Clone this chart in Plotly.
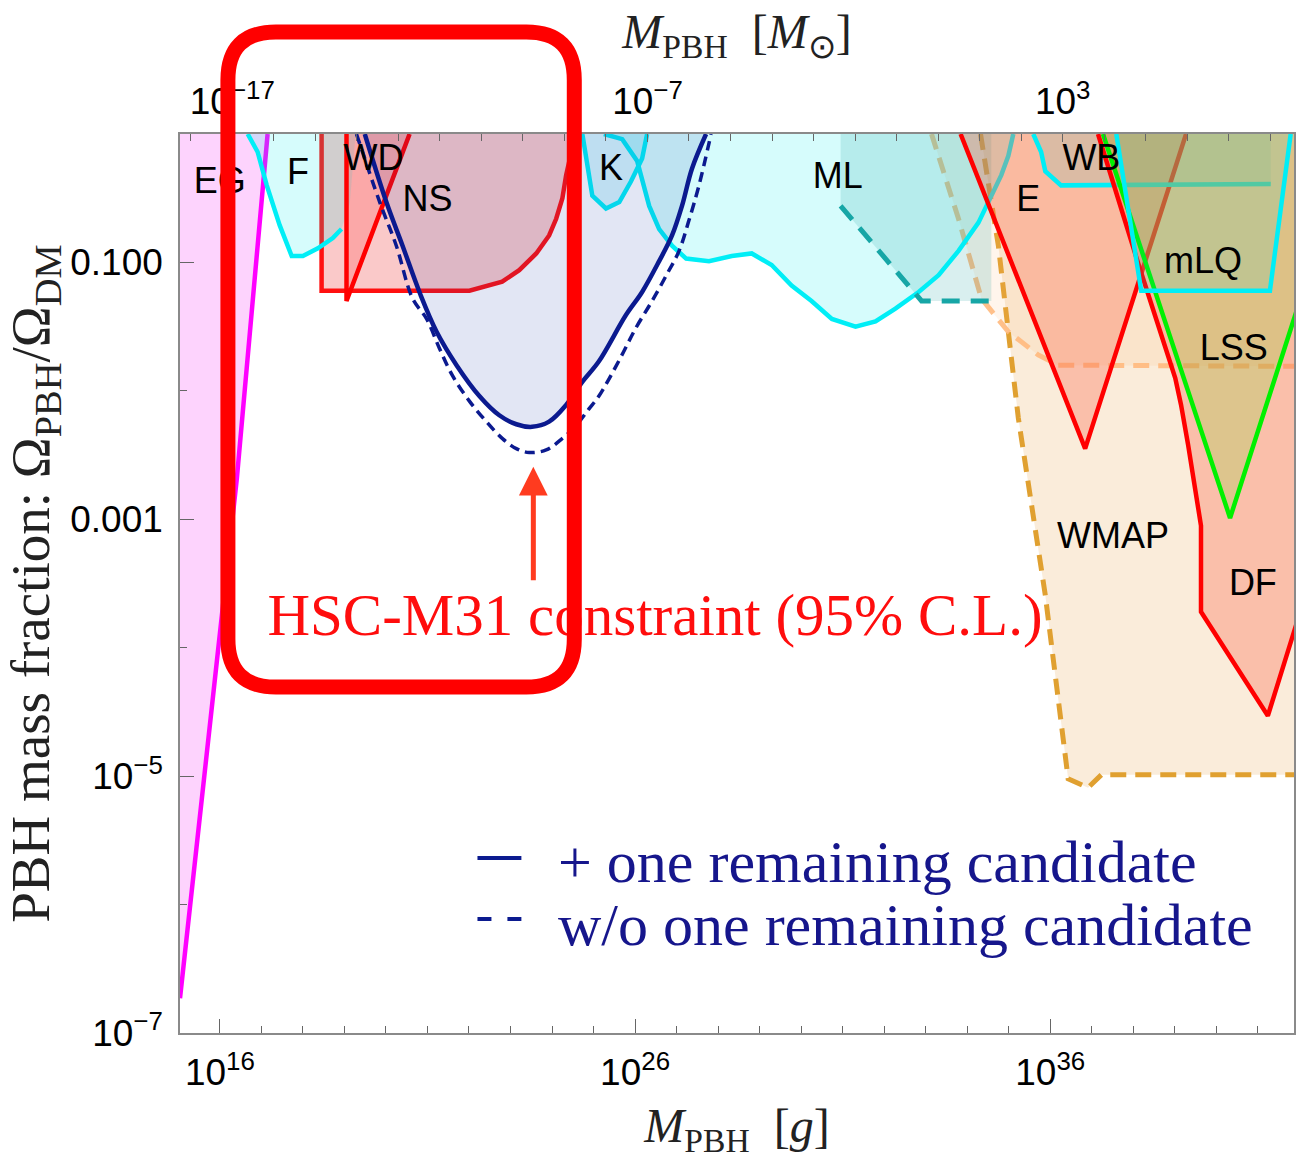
import numpy as np
import plotly.graph_objects as go

# ---------------- data: log10(M / g), log10(f) ----------------
LOG_MSUN = np.log10(1.989e33)
X_RANGE = [15.04, 41.87]
Y_RANGE = [-7.0, 0.0]

EG_X = [15.04, 16.41, 17.15]
EG_Y = [-6.73, -2.68, 0.0]

F_X = [16.67, 16.91, 17.13, 17.44, 17.73, 18.00, 18.36, 18.72, 18.93]
F_Y = [0.0, -0.14, -0.40, -0.71, -0.95, -0.95, -0.89, -0.81, -0.74]
F_TAIL_X = [19.13, 19.27]
F_TAIL_Y = [-0.54, 0.0]

NS_X = [18.45, 18.45, 22.01, 22.80, 23.21, 23.62, 23.93, 24.10, 24.25, 24.34, 24.46, 24.53]
NS_Y = [0.0, -1.22, -1.22, -1.15, -1.06, -0.93, -0.79, -0.66, -0.50, -0.32, -0.15, 0.0]

WD_X = [19.05, 19.05, 20.57]
WD_Y = [0.0, -1.30, 0.0]

K_X = [24.73, 24.83, 24.97, 25.30, 25.62, 25.90, 26.17, 26.29]
K_Y = [0.0, -0.21, -0.48, -0.58, -0.53, -0.37, -0.19, 0.0]

ML_X = [25.25, 25.69, 26.05, 26.22, 26.34, 26.58, 26.89, 27.23, 27.78, 28.33, 28.81,
        29.29, 29.77, 30.25, 30.74, 31.31, 31.79, 32.27, 32.83, 33.31, 33.79, 34.27,
        34.58, 34.82, 34.99, 35.11]
ML_Y = [0.0, -0.04, -0.21, -0.40, -0.56, -0.74, -0.87, -0.97, -0.99, -0.95, -0.93,
        -1.02, -1.18, -1.30, -1.44, -1.50, -1.46, -1.36, -1.23, -1.10, -0.91, -0.69,
        -0.48, -0.32, -0.17, 0.0]

MLD_X = [30.95, 30.95, 32.90, 34.58, 34.58]
MLD_Y = [0.0, -0.56, -1.30, -1.30, 0.0]

WMAP_X = [34.32, 34.75, 35.23, 35.88, 36.43, 36.91, 37.23, 42.5]
WMAP_Y = [0.0, -0.87, -2.21, -3.59, -5.02, -5.09, -4.99, -4.99]

PCH_X = [33.14, 33.79, 34.34, 34.99, 35.71, 36.19, 42.5]
PCH_Y = [0.0, -0.66, -1.28, -1.54, -1.72, -1.80, -1.81]

E_X = [33.84, 36.84, 39.27]
E_Y = [0.0, -2.45, 0.0]

WB_X = [35.59, 35.78, 35.88, 36.26, 41.31]
WB_Y = [0.0, -0.14, -0.29, -0.40, -0.39]

MLQ_X = [37.59, 38.19, 41.29, 41.79]
MLQ_Y = [0.0, -1.22, -1.22, 0.0]

LSS_X = [37.27, 40.33, 43.3]
LSS_Y = [0.0, -2.99, 0.0]

DF_X = [37.15, 38.12, 39.01, 39.15, 39.32, 39.63, 39.63, 41.24, 45.6]
DF_Y = [0.0, -1.01, -1.90, -2.11, -2.42, -3.05, -3.72, -4.53, 0.0]

HSC_X = [19.49, 20.01, 20.40, 20.83, 21.22, 21.70, 22.25, 22.73, 23.14, 23.52, 23.93,
         24.34, 24.73, 25.13, 25.78, 26.17, 26.58, 26.89, 27.13, 27.37, 27.71]
HSC_Y = [0.0, -0.53, -0.87, -1.25, -1.54, -1.80, -2.04, -2.19, -2.26, -2.28, -2.24,
         -2.11, -1.93, -1.77, -1.41, -1.23, -0.99, -0.79, -0.56, -0.27, 0.0]

HSC0_X = [19.29, 19.85, 20.25, 20.64, 20.98, 21.29, 21.60, 22.01, 22.42, 22.80, 23.14,
          23.45, 23.86, 24.25, 24.58, 24.89, 25.13, 25.62, 26.02, 26.41, 26.77, 27.06,
          27.30, 27.54, 27.83]
HSC0_Y = [0.0, -0.53, -0.87, -1.28, -1.44, -1.67, -1.88, -2.08, -2.24, -2.37, -2.45,
          -2.48, -2.46, -2.37, -2.27, -2.14, -2.04, -1.76, -1.51, -1.30, -1.09, -0.91,
          -0.67, -0.40, 0.0]

LABELS = ["EG", "F", "WD", "NS", "K", "ML", "E", "WB", "mLQ", "LSS", "WMAP", "DF"]
LABEL_X = [16.00, 17.88, 19.70, 21.00, 25.42, 30.88, 35.47, 36.99, 39.68, 40.42, 37.51, 40.88]
LABEL_Y = [-0.39, -0.32, -0.21, -0.53, -0.29, -0.35, -0.53, -0.21, -1.01, -1.69, -3.15, -3.52]

HSC_TEXT = "HSC-M31 constraint (95% C.L.)"
HSC_TEXT_X, HSC_TEXT_Y = 26.48, -3.79
ARROW_X, ARROW_Y = 23.55, -2.59

X_TICKS = [16, 26, 36]
X2_TICKS = [-17, -7, 3]
Y_TICKS = [-1, -3, -5, -7]
Y_TICKTEXT = ["0.100", "0.001", "10<sup>\u22125</sup>", "10<sup>\u22127</sup>"]

# ---------------- helpers ----------------
def p10(v):
    return np.power(10.0, np.asarray(v, dtype=float))

def fill_trace(xs, ys, color, shape="linear"):
    return go.Scatter(x=p10(xs), y=p10(ys), mode="lines", fill="toself",
                      fillcolor=color, line=dict(width=0, color="rgba(0,0,0,0)", shape=shape),
                      hoverinfo="skip", showlegend=False)

def line_trace(xs, ys, color, width=4.5, dash="solid", shape="linear"):
    return go.Scatter(x=p10(xs), y=p10(ys), mode="lines",
                      line=dict(color=color, width=width, dash=dash, shape=shape),
                      hoverinfo="skip", showlegend=False)

CYAN = "#00eef6"
RED = "#ff0000"
NAVY = "#0b1a8f"

fig = go.Figure()

# EG
fig.add_trace(fill_trace([14.5] + EG_X + [14.5], [EG_Y[0]] + EG_Y + [0.0], "rgba(250,130,250,0.35)"))
fig.add_trace(line_trace(EG_X, EG_Y, "#ff00ff", 4.5))
# WMAP
fig.add_trace(fill_trace(WMAP_X + [WMAP_X[-1]], WMAP_Y + [0.0], "rgba(230,160,70,0.2)"))
fig.add_trace(line_trace(WMAP_X, WMAP_Y, "#e0a030", 5, "16px,9px"))
# peach dashed region
fig.add_trace(fill_trace(PCH_X + [PCH_X[-1]], PCH_Y + [0.0], "rgba(255,180,110,0.13)"))
fig.add_trace(line_trace(PCH_X, PCH_Y, "rgba(255,185,125,0.9)", 5, "16px,9px"))
# NS
fig.add_trace(fill_trace(NS_X, NS_Y, "rgba(235,40,40,0.25)"))
fig.add_trace(line_trace(NS_X, NS_Y, "#ff1010", 4.5))
# F
fig.add_trace(fill_trace(F_X + F_TAIL_X, F_Y + F_TAIL_Y, "rgba(0,238,238,0.16)"))
fig.add_trace(line_trace(F_X, F_Y, CYAN, 4.5))
# ML
fig.add_trace(fill_trace(ML_X, ML_Y, "rgba(0,238,238,0.16)"))
fig.add_trace(fill_trace(MLD_X, MLD_Y, "rgba(0,150,150,0.15)"))
fig.add_trace(line_trace(ML_X, ML_Y, CYAN, 4.5))
fig.add_trace(line_trace(MLD_X[1:4], MLD_Y[1:4], "#17a6a6", 5, "18px,11px"))
# K
fig.add_trace(fill_trace(K_X, K_Y, "rgba(0,200,238,0.16)"))
fig.add_trace(line_trace(K_X, K_Y, CYAN, 4.5))
# WD
fig.add_trace(fill_trace(WD_X, WD_Y, "rgba(255,40,40,0.2)"))
fig.add_trace(line_trace(WD_X, WD_Y, RED, 4.5))
# E
fig.add_trace(fill_trace(E_X, E_Y, "rgba(250,110,80,0.35)"))
fig.add_trace(line_trace(E_X, E_Y, RED, 4.5))
# WB
fig.add_trace(fill_trace(WB_X + [WB_X[-1]], WB_Y + [0.0], "rgba(0,200,200,0.12)"))
fig.add_trace(line_trace(WB_X, WB_Y, CYAN, 4.5))
# DF
fig.add_trace(fill_trace(DF_X, DF_Y, "rgba(250,110,80,0.35)"))
fig.add_trace(line_trace(DF_X, DF_Y, RED, 4.5))
# LSS
fig.add_trace(fill_trace(LSS_X, LSS_Y, "rgba(120,220,40,0.22)"))
fig.add_trace(line_trace(LSS_X, LSS_Y, "#00f000", 4.5))
# mLQ
fig.add_trace(fill_trace(MLQ_X, MLQ_Y, "rgba(0,220,220,0.12)"))
fig.add_trace(line_trace(MLQ_X, MLQ_Y, CYAN, 4.5))
# HSC-M31
fig.add_trace(fill_trace(HSC_X, HSC_Y, "rgba(30,60,170,0.13)", shape="spline"))
fig.add_trace(line_trace(HSC0_X, HSC0_Y, NAVY, 3.5, "10px,6px", shape="spline"))
fig.add_trace(line_trace(HSC_X, HSC_Y, NAVY, 4.5, shape="spline"))

# region labels
fig.add_trace(go.Scatter(x=p10(LABEL_X), y=p10(LABEL_Y), mode="text", text=LABELS,
                         textfont=dict(family="Liberation Sans, Arial", size=36, color="black"),
                         textposition="middle center", hoverinfo="skip", showlegend=False))
fig.add_trace(go.Scatter(x=p10([HSC_TEXT_X]), y=p10([HSC_TEXT_Y]), mode="text", text=[HSC_TEXT],
                         textfont=dict(family="Liberation Serif, Times New Roman", size=59, color="#ff0d0d"),
                         textposition="middle center", hoverinfo="skip", showlegend=False))

# invisible trace to activate the top (solar mass) axis
fig.add_trace(go.Scatter(x=[1e-10], y=[1e-3], xaxis="x2", yaxis="y", mode="markers",
                         marker=dict(opacity=0), hoverinfo="skip", showlegend=False))

# ---------------- decorations in pixel space ----------------
L, R, T, B = 180, 1296, 134, 1033

def pp(px, py):
    return (px - L) / (R - L), (B - py) / (B - T)

def rounded_box(x0, y0, x1, y1, r):
    pts = [
        ("M", [(x0, y0 + r)]),
        ("Q", [(x0, y0), (x0 + r, y0)]),
        ("L", [(x1 - r, y0)]),
        ("Q", [(x1, y0), (x1, y0 + r)]),
        ("L", [(x1, y1 - r)]),
        ("Q", [(x1, y1), (x1 - r, y1)]),
        ("L", [(x0 + r, y1)]),
        ("Q", [(x0, y1), (x0, y1 - r)]),
    ]
    s = ""
    for cmd, coords in pts:
        s += cmd + " " + " ".join("%.5f,%.5f" % pp(cx, cy) for cx, cy in coords) + " "
    return s + "Z"

shapes = [
    dict(type="path", path=rounded_box(228, 32, 575, 687, 48), xref="paper", yref="paper",
         line=dict(color="#ff0000", width=15), fillcolor="rgba(0,0,0,0)", layer="above"),
]
# legend samples
sx0, sy0 = pp(478, 858)
sx1, _ = pp(522, 858)
shapes.append(dict(type="line", xref="paper", yref="paper", x0=sx0, x1=sx1, y0=sy0, y1=sy0,
                   line=dict(color=NAVY, width=4), layer="above"))
for a, b in [(478, 492), (508, 522)]:
    xa, ya = pp(a, 919)
    xb, _ = pp(b, 919)
    shapes.append(dict(type="line", xref="paper", yref="paper", x0=xa, x1=xb, y0=ya, y1=ya,
                       line=dict(color=NAVY, width=4), layer="above"))

annotations = [
    dict(x=ARROW_X, y=ARROW_Y, xref="x", yref="y", ax=0, ay=115, text="", showarrow=True,
         arrowhead=2, arrowsize=1.15, arrowwidth=5, arrowcolor="#ff3b1f"),
]
for txt, py in [("+ one remaining candidate", 862), ("w/o one remaining candidate", 925)]:
    xp, yp = pp(557, py)
    annotations.append(dict(x=xp, y=yp, xref="paper", yref="paper", text=txt, showarrow=False,
                            xanchor="left", yanchor="middle",
                            font=dict(family="Liberation Serif, Times New Roman", size=60, color="#16168c")))

TICKFONT = dict(family="Liberation Sans, Arial", size=37, color="black")
TITLEFONT = dict(family="Liberation Serif, Times New Roman", size=48, color="#222222")
AXLINE = dict(showline=True, linecolor="#8a8a8a", linewidth=1.5, showgrid=False, zeroline=False)

fig.update_layout(
    width=1297, height=1160,
    margin=dict(l=L, r=1297 - R, t=T, b=1160 - B),
    paper_bgcolor="white", plot_bgcolor="white",
    showlegend=False,
    shapes=shapes, annotations=annotations,
    xaxis=dict(type="log", range=X_RANGE, tickmode="array",
               tickvals=[10.0 ** k for k in X_TICKS],
               ticktext=["10<sup>%d</sup>" % k for k in X_TICKS],
               ticks="inside", ticklen=14, tickwidth=1.2, tickcolor="#666",
               tickfont=TICKFONT, ticklabelstandoff=6, mirror=True,
               minor=dict(tickmode="array", tickvals=[10.0 ** k for k in range(15, 42)],
                          ticks="inside", ticklen=7, tickwidth=1.2, tickcolor="#666", showgrid=False),
               title=dict(text="<i>M</i><sub>PBH</sub>  [<i>g</i>]", font=TITLEFONT, standoff=16),
               **AXLINE),
    xaxis2=dict(type="log", overlaying="x", side="top", anchor="y",
                range=[X_RANGE[0] - LOG_MSUN, X_RANGE[1] - LOG_MSUN], tickmode="array",
                tickvals=[10.0 ** k for k in X2_TICKS],
                ticktext=["10<sup>%s</sup>" % str(k).replace("-", "\u2212") for k in X2_TICKS],
                ticks="inside", ticklen=8, tickwidth=1.2, tickcolor="#666",
                tickfont=TICKFONT, ticklabelstandoff=3,
                minor=dict(tickmode="array", tickvals=[10.0 ** k for k in range(-19, 9)],
                           ticks="inside", ticklen=7, tickwidth=1.2, tickcolor="#666", showgrid=False),
                title=dict(text="<i>M</i><sub>PBH</sub>  [<i>M</i><sub>\u2299</sub>]", font=TITLEFONT, standoff=12),
                **AXLINE),
    yaxis=dict(type="log", range=Y_RANGE, tickmode="array",
               tickvals=[10.0 ** k for k in Y_TICKS], ticktext=Y_TICKTEXT,
               ticks="inside", ticklen=14, tickwidth=1.2, tickcolor="#666",
               tickfont=TICKFONT, ticklabelstandoff=8, mirror=True,
               minor=dict(tickmode="array", tickvals=[10.0 ** k for k in range(-7, 1)],
                          ticks="inside", ticklen=7, tickwidth=1.2, tickcolor="#666", showgrid=False),
               title=dict(text="PBH mass fraction: \u03a9<sub>PBH</sub>/\u03a9<sub>DM</sub>",
                          font=dict(family="Liberation Serif, Times New Roman", size=55, color="#222222"),
                          standoff=14),
               **AXLINE),
)

fig.write_html("out.html", config={"displayModeBar": False},
               post_script="document.body.style.margin='0px';document.body.style.overflow='hidden';")
